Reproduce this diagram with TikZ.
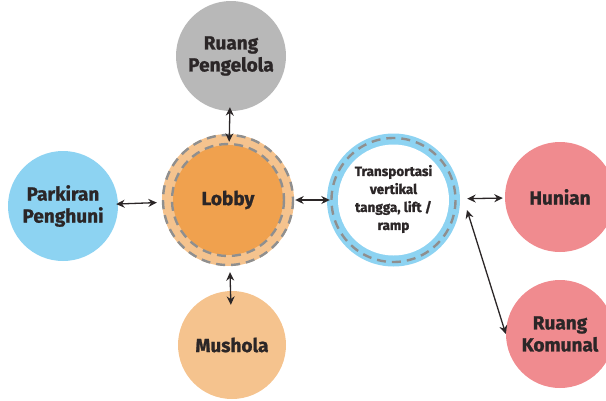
\documentclass[tikz,border=0pt]{standalone}
\usepackage{fontspec}
\setmainfont{Fira Sans}[BoldFeatures={FakeBold=1.2}]
\usetikzlibrary{arrows.meta}
\definecolor{txt}{HTML}{2B2627}
\definecolor{grayfill}{HTML}{B8B8B8}
\definecolor{bluefill}{HTML}{8DD3F2}
\definecolor{orangedark}{HTML}{F0A14E}
\definecolor{orangelight}{HTML}{F5C38E}
\definecolor{pinkfill}{HTML}{F08B8F}
\definecolor{dashgray}{HTML}{8F8F8F}
\tikzset{
  room/.style={circle, minimum size=110pt, inner sep=0pt, align=center,
    text=txt, font=\bfseries\fontsize{19}{22}\selectfont},
  ring/.style={dashgray, line width=2.4pt, dash pattern=on 9pt off 6pt},
  link/.style={txt, line width=1.3pt, {Stealth[length=8.5pt,width=8pt]}-{Stealth[length=8.5pt,width=8pt]}},
}
\begin{document}
\begin{tikzpicture}[x=1pt,y=-1pt]
\useasboundingbox (0,0) rectangle (606,400);
% rooms
\node[room, fill=grayfill] (peng) at (231,56) {Ruang\\Pengelola};
\node[room, fill=bluefill] (park) at (63,206) {Parkiran\\Penghuni};
\node[room, fill=orangelight, minimum size=132pt] (lobby) at (228,200) {};
\fill[orangedark] (lobby.center) circle (55);
\node[text=txt, font=\bfseries\fontsize{19}{22}\selectfont] at (lobby.center) {Lobby};
\node[room, fill=orangelight, minimum size=108pt] (mush) at (232,345) {Mushola};
\node[room, fill=pinkfill] (hun) at (560,197) {Hunian};
\node[room, fill=pinkfill, minimum size=108pt] (kom) at (560,334) {Ruang\\Komunal};
% vertical transport ring
\node[circle, minimum size=133pt, inner sep=0pt, fill=bluefill] (trans) at (393.5,200) {};
\fill[white] (trans.center) circle (55.5);
\node[align=center, text=txt, font=\bfseries\fontsize{13.5}{18}\selectfont]
  at ([yshift=1pt]trans.center) {Transportasi\\vertikal\\tangga, lift /\\ramp};
% dashed boundaries
\draw[ring] (lobby.center) circle (65);
\draw[ring] (lobby.center) circle (56);
\draw[ring] (trans.center) circle (62);
% connectors
\draw[link, shorten <=-2pt, shorten >=5pt] (park) -- (lobby);
\draw[link, shorten <=-4pt, shorten >=-8pt] (peng) -- (lobby);
\draw[link, shorten <=-14pt, shorten >=6pt] (mush) -- (lobby);
\draw[link, shorten <=1pt, shorten >=-3pt] (lobby) -- (trans);
\draw[link, shorten <=7pt, shorten >=2pt] (trans) -- (hun);
\coordinate (tk) at (467,210);
\draw[link] (tk) -- (kom.west);
\end{tikzpicture}
\end{document}
